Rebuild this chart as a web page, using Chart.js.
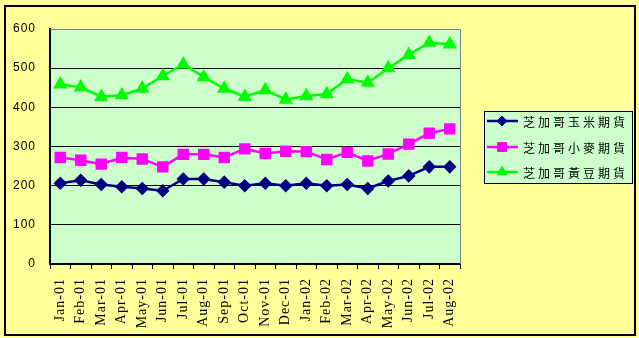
<!DOCTYPE html>
<html>
<head>
<meta charset="utf-8">
<script src="https://cdn.jsdelivr.net/npm/chart.js@4.4.0/dist/chart.umd.min.js"></script>
<style>
  html, body { margin: 0; padding: 0; background: #FFFF99; }
  #wrap { width: 639px; height: 338px; }
</style>
</head>
<body>
<div id="wrap"><canvas id="c" width="639" height="338"></canvas></div>
<script>
const categories = ['Jan-01','Feb-01','Mar-01','Apr-01','May-01','Jun-01','Jul-01','Aug-01','Sep-01','Oct-01','Nov-01','Dec-01','Jan-02','Feb-02','Mar-02','Apr-02','May-02','Jun-02','Jul-02','Aug-02'];
const corn     = [206,214,203,197,193,187,217,217,209,200,206,200,206,200,203,193,212,225,248,248];
const wheat    = [272,265,255,272,268,248,280,280,272,294,282,288,287,267,285,263,281,306,334,345];
const soybeans = [459,451,427,431,448,480,510,477,448,427,444,420,429,434,472,463,500,534,565,561];
const seriesNames = ['芝加哥玉米期貨','芝加哥小麥期貨','芝加哥黃豆期貨'];
const yTicks = [0,100,200,300,400,500,600];

const framePlugin = {
  id: 'frame',
  beforeDraw(chart) {
    const ctx = chart.ctx;
    const a = chart.chartArea;
    ctx.save();
    ctx.fillStyle = '#FFFF99';
    ctx.fillRect(0, 0, chart.width, chart.height);
    ctx.strokeStyle = '#000000';
    ctx.lineWidth = 2;
    ctx.strokeRect(5, 6, 630, 329);
    ctx.fillStyle = '#CCFFCC';
    ctx.fillRect(a.left, a.top, a.right - a.left, a.bottom - a.top);
    ctx.restore();
    ctx.letterSpacing = '1px';
  },
  afterDraw(chart) {
    const ctx = chart.ctx;
    const a = chart.chartArea;
    ctx.save();
    ctx.letterSpacing = '0px';
    ctx.strokeStyle = '#808080';
    ctx.lineWidth = 1;
    ctx.beginPath();
    ctx.moveTo(a.left, a.top + 0.5);
    ctx.lineTo(a.right + 0.5, a.top + 0.5);
    ctx.lineTo(a.right + 0.5, a.bottom);
    ctx.stroke();
    // legend
    const lx = 484, ly = 111, lw = 148, lh = 72;
    ctx.fillStyle = '#CCFFCC';
    ctx.fillRect(lx, ly, lw, lh);
    ctx.strokeStyle = '#000000';
    ctx.lineWidth = 1;
    ctx.strokeRect(lx + 0.5, ly + 0.5, lw, lh);
    const rows = [121, 147, 172];
    chart.data.datasets.forEach((ds, i) => {
      const y = rows[i];
      ctx.strokeStyle = ds.borderColor;
      ctx.lineWidth = ds.borderWidth;
      ctx.beginPath();
      ctx.moveTo(487, y);
      ctx.lineTo(518, y);
      ctx.stroke();
      ctx.fillStyle = ds.pointBackgroundColor;
      ctx.strokeStyle = ds.pointBorderColor;
      ctx.lineWidth = 1;
      Chart.helpers.drawPoint(ctx, {pointStyle: ds.pointStyle, rotation: 0, radius: ds.pointRadius, borderWidth: 1}, 502, y);
      ctx.fillStyle = '#000000';
      ctx.font = '12px "Noto Sans CJK TC"';
      ctx.letterSpacing = '3px';
      ctx.textBaseline = 'middle';
      ctx.textAlign = 'left';
      ctx.fillText(ds.label, 523, y + 1);
      ctx.letterSpacing = '0px';
    });
    ctx.restore();
  }
};

new Chart(document.getElementById('c'), {
  type: 'line',
  data: {
    labels: categories,
    datasets: [
      { label: seriesNames[0], data: corn, borderColor: '#000080', backgroundColor: '#000080',
        pointBackgroundColor: '#000080', pointBorderColor: '#000080', borderWidth: 2.5,
        pointStyle: 'rectRot', pointRadius: 5, tension: 0 },
      { label: seriesNames[1], data: wheat, borderColor: '#FF00FF', backgroundColor: '#FF00FF',
        pointBackgroundColor: '#FF00FF', pointBorderColor: '#FF00FF', borderWidth: 2.5,
        pointStyle: 'rect', pointRadius: 6.3, tension: 0 },
      { label: seriesNames[2], data: soybeans, borderColor: '#00FF00', backgroundColor: '#00FF00',
        pointBackgroundColor: '#00FF00', pointBorderColor: '#00FF00', borderWidth: 2.5,
        pointStyle: 'triangle', pointRadius: 5.8, tension: 0 }
    ]
  },
  options: {
    responsive: false,
    animation: false,
    events: [],
    layout: { padding: { top: 29, right: 179, left: 0, bottom: 0 } },
    plugins: { legend: { display: false }, tooltip: { enabled: false } },
    scales: {
      x: {
        type: 'category',
        offset: true,
        afterFit(scale) { scale.height = 74; },
        grid: { offset: true, drawOnChartArea: false, drawTicks: true, tickLength: 5, color: '#000000', lineWidth: 1 },
        border: { display: true, color: '#000000', width: 2 },
        ticks: {
          autoSkip: false, minRotation: 90, maxRotation: 90, padding: 9,
          color: '#000000', font: { family: '"Liberation Serif"', size: 14 }
        }
      },
      y: {
        min: 0, max: 600,
        afterFit(scale) { scale.width = 50; },
        afterBuildTicks(scale) { scale.ticks = yTicks.map(v => ({ value: v })); },
        grid: {
          drawTicks: false,
          color: (c) => (c.tick && c.tick.value === 600) ? '#808080' : '#000000',
          lineWidth: 1
        },
        border: { display: true, color: '#000000', width: 2 },
        ticks: {
          padding: 14, color: '#000000',
          font: { family: '"Liberation Sans"', size: 12 }
        }
      }
    }
  },
  plugins: [framePlugin]
});
</script>
</body>
</html>
